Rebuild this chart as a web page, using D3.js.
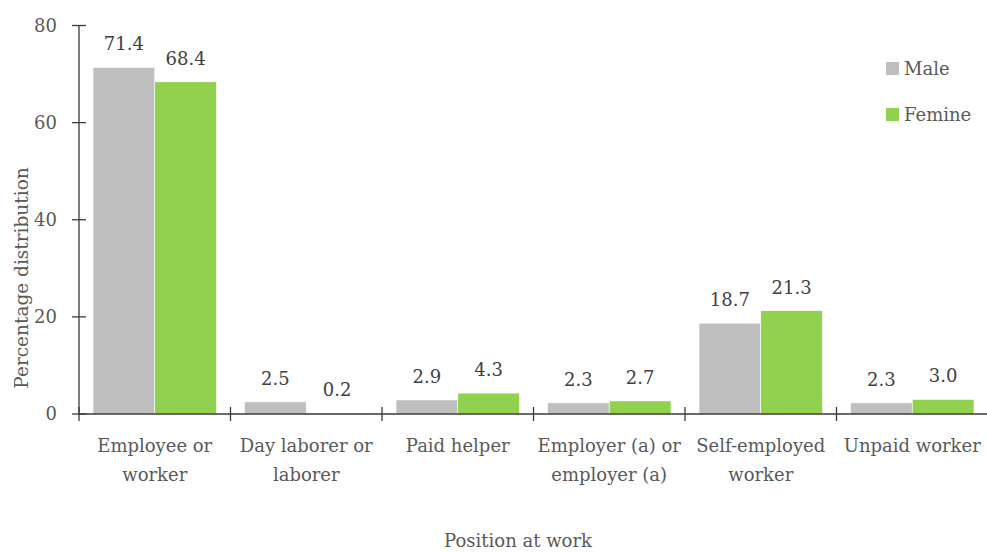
<!DOCTYPE html>
<html>
<head>
<meta charset="utf-8">
<script src="https://cdn.jsdelivr.net/npm/d3@7"></script>
<style>
  html, body { margin: 0; padding: 0; background: #fff; }
  svg text { font-family: "Palatino Linotype", "Book Antiqua", Palatino, "DejaVu Serif", serif; }
</style>
</head>
<body>
<svg id="chart" width="987" height="552"></svg>
<script>
// Position at work, split by sex (percentage distribution)
const categories = [
  ["Employee or", "worker"],
  ["Day laborer or", "laborer"],
  ["Paid helper"],
  ["Employer (a) or", "employer (a)"],
  ["Self-employed", "worker"],
  ["Unpaid worker"]
];
const seriesNames = ["Male", "Femine"];
const maleValues = [71.4, 2.5, 2.9, 2.3, 18.7, 2.3];
const femineValues = [68.4, 0.2, 4.3, 2.7, 21.3, 3.0];
const yTicks = [0, 20, 40, 60, 80];
const colors = ["#bfbfbf", "#92d050"];

(function () {
const svg = d3.select("#chart");
const mLeft = 79, mRight = 988, mTop = 25.5, mBottom = 414;

const keys = categories.map(c => c.join(" "));
const x = d3.scaleBand().domain(keys).range([mLeft, mRight]).paddingInner(0).paddingOuter(0);
// bars occupy the middle of each group with equal side margins
const x1 = d3.scaleBand().domain(seriesNames).range([14, x.bandwidth() - 14]).paddingInner(0);
const y = d3.scaleLinear().domain([0, 80]).range([mBottom, mTop]);

const axisColor = "#3a3a3a";
const tickText = "#595959";

// y axis line and crossing ticks
svg.append("line").attr("x1", mLeft).attr("x2", mLeft).attr("y1", y(80)).attr("y2", y(0))
  .attr("stroke", axisColor).attr("stroke-width", 1.3);
const yg = svg.append("g");
yg.selectAll("line").data(yTicks).join("line")
  .attr("x1", mLeft - 7).attr("x2", mLeft + 7)
  .attr("y1", d => y(d)).attr("y2", d => y(d))
  .attr("stroke", axisColor).attr("stroke-width", 1.3);
yg.selectAll("text").data(yTicks).join("text")
  .attr("x", mLeft - 22).attr("y", d => y(d)).attr("dy", "0.35em")
  .attr("text-anchor", "end").attr("fill", tickText).attr("font-size", 18)
  .text(d => d);

// bars
const data = keys.map((k, i) => ({ key: k, values: [maleValues[i], femineValues[i]] }));
const groups = svg.append("g").selectAll("g").data(data).join("g")
  .attr("transform", d => `translate(${x(d.key)},0)`);
const cells = d => d.values.map((v, j) => ({ name: seriesNames[j], v, j }));
groups.selectAll("rect").data(cells).join("rect")
  .attr("x", d => x1(d.name)).attr("width", x1.bandwidth())
  .attr("y", d => y(d.v)).attr("height", d => y(0) - y(d.v))
  .attr("fill", d => colors[d.j]).attr("stroke", "#fff").attr("stroke-width", 0.6);
groups.selectAll("text.val").data(cells).join("text").attr("class", "val")
  .attr("x", d => x1(d.name) + x1.bandwidth() / 2)
  .attr("y", d => y(d.v) - 17)
  .attr("text-anchor", "middle").attr("fill", "#404040").attr("font-size", 18)
  .text(d => d.v.toFixed(1));

// x axis line and crossing ticks at group boundaries
svg.append("line").attr("x1", mLeft).attr("x2", mRight).attr("y1", y(0)).attr("y2", y(0))
  .attr("stroke", axisColor).attr("stroke-width", 1.3);
const bounds = keys.map(k => x(k)).concat([mRight]);
svg.append("g").selectAll("line").data(bounds).join("line")
  .attr("x1", d => d).attr("x2", d => d).attr("y1", y(0) - 7).attr("y2", y(0) + 7)
  .attr("stroke", axisColor).attr("stroke-width", 1.3);

// category labels
const cl = svg.append("g").selectAll("text").data(categories).join("text")
  .attr("x", (d, i) => x(keys[i]) + x.bandwidth() / 2)
  .attr("y", 452).attr("text-anchor", "middle").attr("fill", tickText).attr("font-size", 18);
cl.selectAll("tspan").data(d => d).join("tspan")
  .attr("x", function () { return d3.select(this.parentNode).attr("x"); })
  .attr("dy", (d, i) => i === 0 ? 0 : 29).text(d => d);

// axis titles
svg.append("text").attr("x", 518).attr("y", 547).attr("text-anchor", "middle")
  .attr("fill", tickText).attr("font-size", 18).text("Position at work");
svg.append("text").attr("transform", `translate(28,278) rotate(-90)`)
  .attr("text-anchor", "middle").attr("fill", tickText).attr("font-size", 18.5)
  .text("Percentage distribution");

// legend
const lg = svg.append("g").selectAll("g").data(seriesNames).join("g")
  .attr("transform", (d, i) => `translate(886,${62 + i * 46})`);
lg.append("rect").attr("width", 13).attr("height", 13).attr("fill", (d, i) => colors[i]);
lg.append("text").attr("x", 18).attr("y", 6.5).attr("dy", "0.35em")
  .attr("fill", tickText).attr("font-size", 18).text(d => d);
})();
</script>
</body>
</html>
